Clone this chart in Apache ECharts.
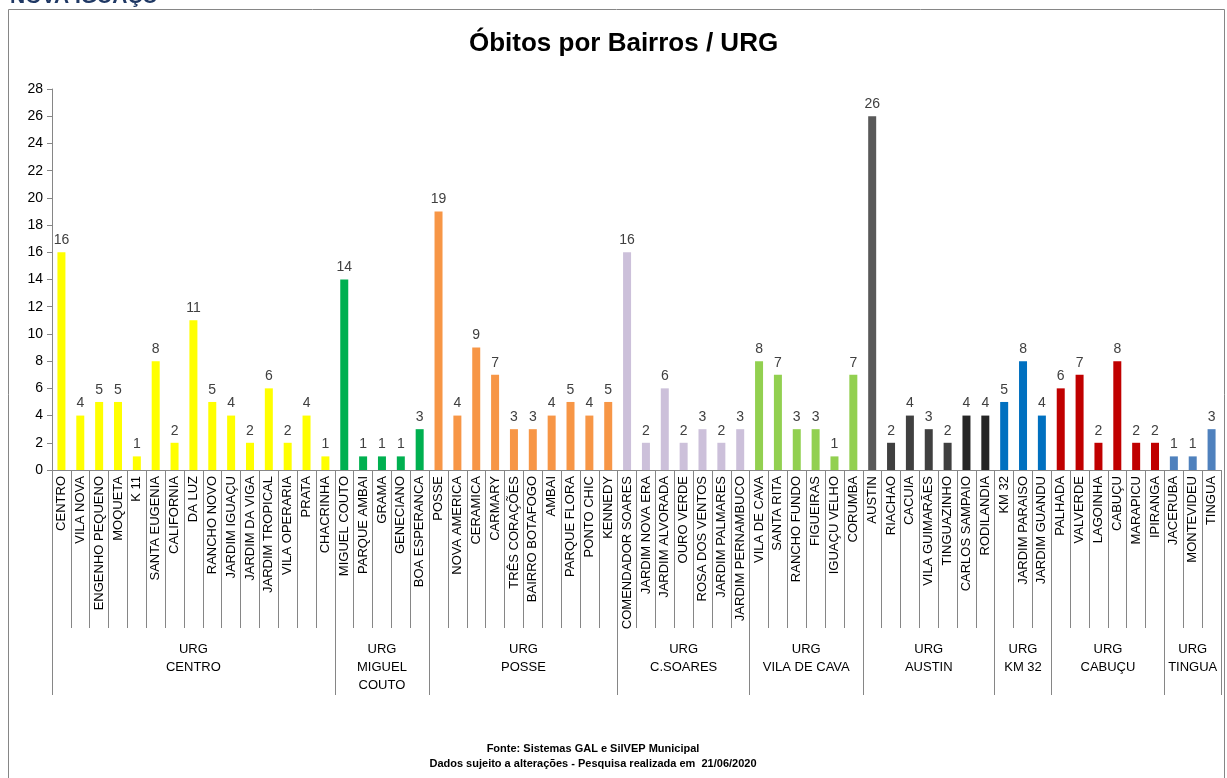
<!DOCTYPE html>
<html>
<head>
<meta charset="utf-8">
<script src="https://cdn.jsdelivr.net/npm/echarts@6/dist/echarts.min.js"></script>
<style>
  html, body { margin: 0; padding: 0; background: #fff; }
  #main { width: 1227px; height: 778px; }
</style>
</head>
<body>
<div id="main"></div>
<script>
// bairros por URG
const bairros = [
  'CENTRO', 'VILA NOVA', 'ENGENHO PEQUENO', 'MOQUETA', 'K 11', 'SANTA EUGENIA', 'CALIFORNIA', 'DA LUZ',
  'RANCHO NOVO', 'JARDIM IGUAÇU', 'JARDIM DA VIGA', 'JARDIM TROPICAL', 'VILA OPERARIA', 'PRATA', 'CHACRINHA',
  'MIGUEL COUTO', 'PARQUE AMBAI', 'GRAMA', 'GENECIANO', 'BOA ESPERANCA',
  'POSSE', 'NOVA AMERICA', 'CERAMICA', 'CARMARY', 'TRÊS CORAÇÕES', 'BAIRRO BOTAFOGO', 'AMBAI', 'PARQUE FLORA',
  'PONTO CHIC', 'KENNEDY',
  'COMENDADOR SOARES', 'JARDIM NOVA ERA', 'JARDIM ALVORADA', 'OURO VERDE', 'ROSA DOS VENTOS', 'JARDIM PALMARES',
  'JARDIM PERNAMBUCO',
  'VILA DE CAVA', 'SANTA RITA', 'RANCHO FUNDO', 'FIGUEIRAS', 'IGUAÇU VELHO', 'CORUMBA',
  'AUSTIN', 'RIACHAO', 'CACUIA', 'VILA GUIMARÃES', 'TINGUAZINHO', 'CARLOS SAMPAIO', 'RODILANDIA',
  'KM 32', 'JARDIM PARAISO', 'JARDIM GUANDU',
  'PALHADA', 'VALVERDE', 'LAGOINHA', 'CABUÇU', 'MARAPICU', 'IPIRANGA',
  'JACERUBA', 'MONTEVIDEU', 'TINGUA',
]
const obitos = [
  16, 4, 5, 5, 1, 8, 2, 11, 5, 4, 2, 6, 2, 4, 1,
  14, 1, 1, 1, 3,
  19, 4, 9, 7, 3, 3, 4, 5, 4, 5,
  16, 2, 6, 2, 3, 2, 3,
  8, 7, 3, 3, 1, 7,
  26, 2, 4, 3, 2, 4, 4,
  5, 8, 4,
  6, 7, 2, 8, 2, 2,
  1, 1, 3,
]
const urgNomes = ['CENTRO', 'MIGUEL\nCOUTO', 'POSSE', 'C.SOARES', 'VILA DE CAVA', 'AUSTIN', 'KM 32', 'CABUÇU', 'TINGUA']
const urgTamanhos = [15, 5, 10, 7, 6, 7, 3, 6, 3]
const yTicks = { min: 0, max: 28, interval: 2 }

// cores
const urgCores = ['#FFFF00', '#00B050', '#F79646', '#CCC0DA', '#92D050', '#404040', '#0070C0', '#C00000', '#4F81BD']
const austinCores = ['#595959', '#404040', '#404040', '#404040', '#404040', '#262626', '#262626']

const barCores = []
const urgInicio = []
let pos = 0
urgTamanhos.forEach((n, g) => {
  urgInicio.push(pos)
  for (let i = 0; i < n; i++) {
    barCores.push(urgNomes[g] === 'AUSTIN' ? austinCores[i] : urgCores[g])
  }
  pos += n
})

// indice do rotulo de cada URG (centro do grupo)
const labelIdx = {}
urgTamanhos.forEach((n, g) => {
  const idx = urgInicio[g] + Math.floor((n - 1) / 2)
  labelIdx[idx] = g
})

const tickIdx = new Set(urgInicio)

const FONT = 'Liberation Sans'
const chart = echarts.init(document.getElementById('main'))

const option = {
  animation: false,
  textStyle: { fontFamily: FONT },
  title: {
    text: 'Óbitos por Bairros / URG',
    left: 464,
    top: 26,
    textStyle: { fontFamily: FONT, fontSize: 26, fontWeight: 'bold', color: '#000' },
  },
  grid: { left: 52, right: 6, top: 89, bottom: 308, containLabel: false },
  xAxis: [
    {
      type: 'category',
      data: bairros,
      axisLine: { lineStyle: { color: '#868686' } },
      axisTick: { show: true, interval: 0, length: 158, lineStyle: { color: '#868686' } },
      axisLabel: { interval: 0, rotate: 90, margin: 6, fontSize: 13, color: '#000', fontFamily: FONT },
    },
    {
      type: 'category',
      data: bairros,
      position: 'bottom',
      axisLine: { show: false },
      axisTick: {
        show: true,
        interval: (i) => tickIdx.has(i),
        length: 225,
        lineStyle: { color: '#868686' },
      },
      axisLabel: {
        interval: (i) => labelIdx[i] !== undefined,
        margin: 170,
        fontSize: 13,
        color: '#000',
        fontFamily: FONT,
        formatter: (v, i) => {
          const g = labelIdx[i]
          if (g === undefined) return ''
          const style = urgTamanhos[g] % 2 === 0 ? 'e' : 'o'
          return ['URG'].concat(urgNomes[g].split('\n')).map((t) => '{' + style + '|' + t + '}').join('\n')
        },
        rich: {
          o: { fontSize: 13, lineHeight: 18, fontFamily: FONT, color: '#000' },
          e: { fontSize: 13, lineHeight: 18, fontFamily: FONT, color: '#000', padding: [0, 0, 0, 19] },
        },
      },
    },
  ],
  yAxis: {
    type: 'value',
    min: yTicks.min,
    max: yTicks.max,
    interval: yTicks.interval,
    axisLine: { show: true, lineStyle: { color: '#868686' } },
    axisTick: { show: true, length: 5, lineStyle: { color: '#868686' } },
    splitLine: { show: false },
    axisLabel: { fontSize: 14, color: '#000', margin: 9, fontFamily: FONT },
  },
  series: [
    {
      type: 'bar',
      xAxisIndex: 0,
      barWidth: 8,
      data: obitos.map((v, i) => ({ value: v, itemStyle: { color: barCores[i] } })),
      label: { show: true, position: 'top', distance: 5, fontSize: 14, color: '#404040', fontFamily: FONT },
    },
  ],
  graphic: [
    {
      type: 'rect',
      shape: { x: 8.5, y: 9.5, width: 1216, height: 800 },
      style: { fill: 'none', stroke: '#868686', lineWidth: 1 },
      silent: true,
    },
    {
      type: 'text',
      left: 10,
      top: -13,
      style: { text: 'NOVA IGUAÇU', font: 'bold 21px ' + FONT, fill: '#1F3864' },
    },
    {
      type: 'text',
      x: 593,
      y: 741,
      style: {
        text: 'Fonte: Sistemas GAL e SiIVEP Municipal\nDados sujeito a alterações - Pesquisa realizada em  21/06/2020',
        font: 'bold 11px ' + FONT,
        fill: '#000',
        align: 'center',
        verticalAlign: 'top',
        lineHeight: 15,
      },
    },
  ],
}
chart.setOption(option)
</script>
</body>
</html>
